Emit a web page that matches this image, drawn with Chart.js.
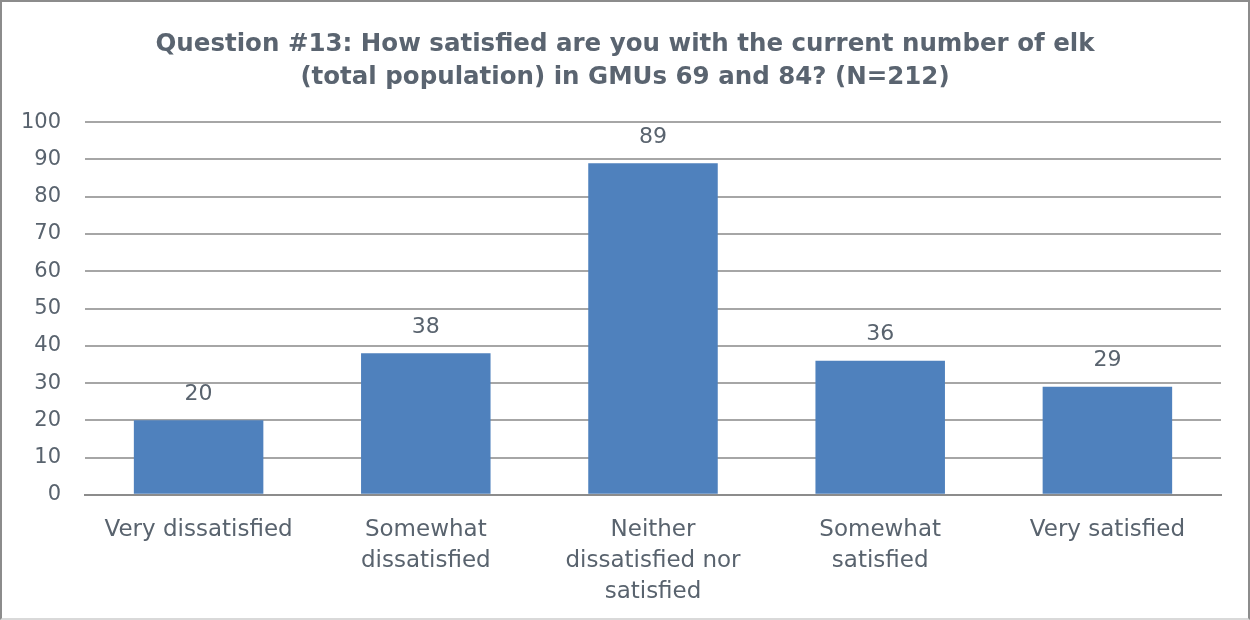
<!DOCTYPE html>
<html>
<head>
<meta charset="utf-8">
<script src="https://cdn.jsdelivr.net/npm/chart.js@4/dist/chart.umd.min.js"></script>
<style>
  html, body { margin: 0; padding: 0; background: #fff; }
  #wrap { position: relative; width: 1246px; height: 616px; border: 2px solid #8c8c8c; border-bottom-color: #d9d9d9; }
</style>
</head>
<body>
<div id="wrap"><canvas id="chart"></canvas></div>
<script>
// survey answers
const categories = [
  "Very dissatisfied",
  ["Somewhat", "dissatisfied"],
  ["Neither", "dissatisfied nor", "satisfied"],
  ["Somewhat", "satisfied"],
  "Very satisfied"
];
const counts = [20, 38, 89, 36, 29];
const titleLines = [
  "Question #13: How satisfied are you with the current number of elk",
  "(total population) in GMUs 69 and 84? (N=212)"
];

const textColor = "#59636e";
const font = "'DejaVu Sans', Verdana, sans-serif";

// draw the number above each bar
const valueLabels = {
  id: "valueLabels",
  afterDatasetsDraw(chart) {
    const ctx = chart.ctx;
    const meta = chart.getDatasetMeta(0);
    ctx.save();
    ctx.fillStyle = textColor;
    ctx.font = "22px " + font;
    ctx.textAlign = "center";
    ctx.textBaseline = "bottom";
    meta.data.forEach((bar, i) => {
      ctx.fillText(counts[i], bar.x, bar.y - 15);
    });
    ctx.restore();
  }
};

// centre the title on the whole canvas, not just the padded box
const centerTitle = {
  id: "centerTitle",
  afterLayout(chart) {
    if (chart.titleBlock) {
      chart.titleBlock.left = 0;
      chart.titleBlock.right = chart.width;
    }
  }
};

new Chart(document.getElementById("chart"), {
  type: "bar",
  data: {
    labels: categories,
    datasets: [{
      data: counts,
      backgroundColor: "#4f81bd",
      borderWidth: 0,
      barPercentage: 0.57,
      categoryPercentage: 1
    }]
  },
  options: {
    responsive: true,
    maintainAspectRatio: false,
    animation: false,
    layout: { padding: { left: 0, right: 27, top: 10, bottom: 0 } },
    plugins: {
      legend: { display: false },
      tooltip: { enabled: false },
      title: {
        display: true,
        text: titleLines,
        color: "#5a6470",
        font: { family: font, size: 24.5, weight: "bold", lineHeight: 1.31 },
        padding: { top: 17, bottom: 29 }
      }
    },
    scales: {
      x: {
        afterFit(scale) { scale.height = scale.height - 10; },
        grid: { display: false, drawTicks: false },
        border: { color: "#8c8c8c", width: 2 },
        ticks: {
          color: textColor,
          font: { family: font, size: 23, lineHeight: 1.35 },
          padding: 20,
          maxRotation: 0,
          autoSkip: false
        }
      },
      y: {
        min: 0,
        max: 100,
        afterFit(scale) { scale.width = 83; },
        grid: { color: "#a6a6a6", lineWidth: 2, drawTicks: false },
        border: { display: false },
        ticks: {
          stepSize: 10,
          color: textColor,
          font: { family: font, size: 21 },
          padding: 24
        }
      }
    }
  },
  plugins: [valueLabels, centerTitle]
});
</script>
</body>
</html>
